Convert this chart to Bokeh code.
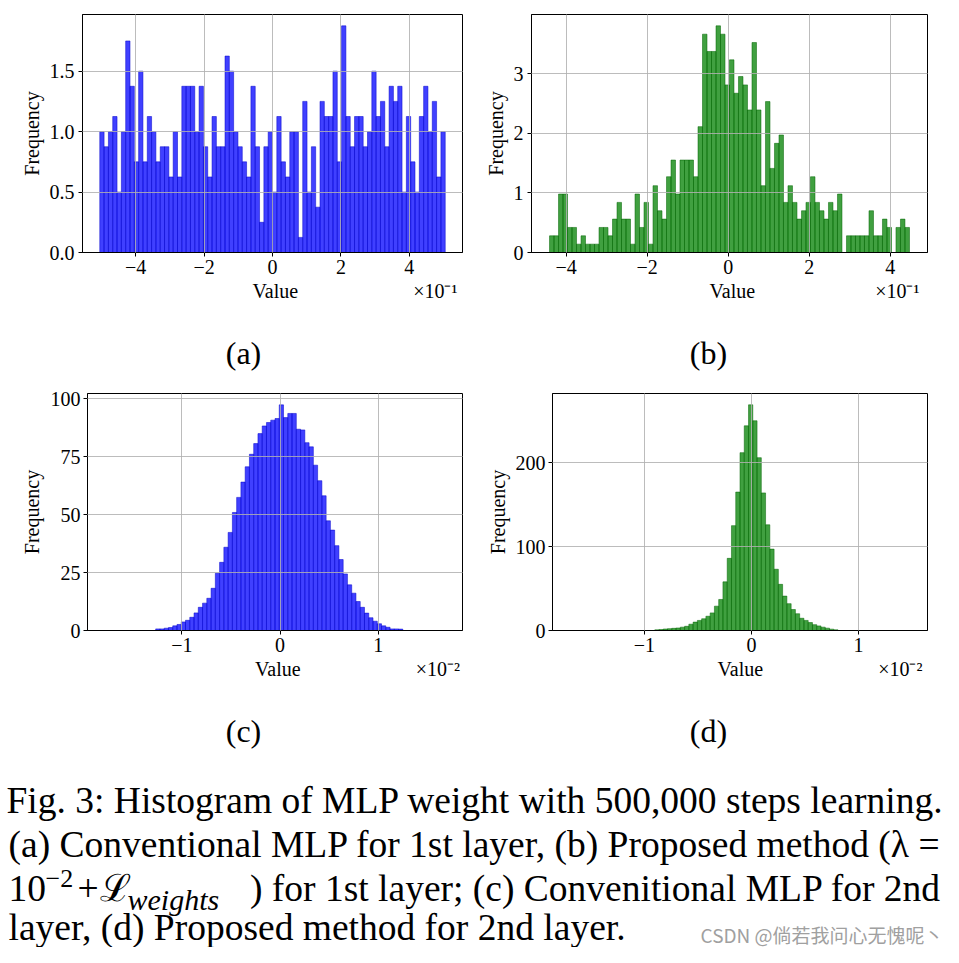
import numpy as np
from bokeh.plotting import figure
from bokeh.layouts import column, row
from bokeh.models import Range1d, FixedTicker, ColumnDataSource
from bokeh.embed import file_html
from bokeh.resources import INLINE
from bokeh.core.properties import value

SERIF = "Liberation Serif"
MINUS = "\u2212"
NBSP = "\u00a0"

# ---------------- data (x in displayed units: x10^-1 for (a),(b); x10^-2 for (c),(d)) -------------
a_lo, a_hi = -5.05, 5.05
a_freq = [1.0, 0.875, 1.0, 1.125, 0.5, 1.0, 1.75, 1.375, 0.75, 1.5,
          0.75, 1.125, 1.0, 0.75, 0.875, 0.875, 0.625, 1.0, 0.625, 1.375,
          1.375, 1.375, 1.0, 1.375, 0.875, 0.625, 1.125, 0.875, 0.875, 1.625,
          1.5, 1.0, 0.875, 0.75, 0.625, 1.375, 0.875, 0.25, 0.875, 1.0,
          0.5, 1.125, 0.75, 0.625, 1.0, 1.0, 0.125, 1.25, 0.5, 0.875,
          0.375, 1.25, 1.125, 1.125, 1.5, 0.75, 1.875, 1.125, 0.875, 1.125,
          1.125, 0.875, 1.0, 1.5, 1.125, 1.25, 0.875, 1.375, 1.25, 1.375,
          0.5, 1.125, 0.75, 0.5, 1.125, 1.375, 1.0, 1.25, 0.625, 1.0]

b_lo, b_hi = -4.412, 4.478
b_freq = [0.28, 0.28, 0.98, 0.98, 0.42, 0.42, 0.14, 0.28, 0.14, 0.14,
          0.14, 0.42, 0.42, 0.28, 0.56, 0.84, 0.56, 0.56, 0.14, 0.98,
          0.42, 0.84, 0.14, 1.12, 0.70, 0.56, 1.27, 1.55, 0.98, 1.55,
          1.55, 1.55, 1.27, 2.11, 3.66, 3.37, 3.37, 3.80, 3.66, 2.81,
          3.23, 2.67, 2.95, 2.81, 2.39, 3.52, 2.39, 1.12, 2.53, 1.41,
          1.83, 1.97, 0.84, 1.12, 0.84, 0.56, 0.70, 0.84, 1.27, 0.84,
          0.70, 0.56, 0.84, 0.70, 0.98, 0.0, 0.28, 0.28, 0.28, 0.28,
          0.28, 0.70, 0.28, 0.28, 0.56, 0.42, 0.0, 0.42, 0.56, 0.42]

c_lo, c_hi = -1.786, 1.684
c_freq = [0, 0, 0, 0, 0, 0, 0, 0, 0, 0, 0, 0,
          0.7, 0.7, 1.0, 1.3, 2.0, 2.6, 3.7, 4.4, 5.7, 7.6,
          10.0, 11.8, 13.9, 18.2, 24.7, 29.4, 35.9, 42.3, 50.9, 57.4,
          64.0, 70.6, 76.0, 80.6, 84.9, 88.2, 89.7, 90.7, 91.4, 97.3,
          91.8, 93.6, 93.6, 86.8, 86.5, 81.0, 79.2, 71.3, 64.6, 58.1,
          47.3, 43.3, 36.6, 30.6, 24.4, 19.7, 16.1, 12.5, 10.0, 7.5,
          5.5, 4.0, 2.9, 2.0, 1.4, 0.7, 0.7, 0.6,
          0, 0, 0, 0, 0, 0, 0, 0, 0, 0]

d_lo, d_hi = -1.70, 1.486
d_freq = [0, 0, 0, 0, 0, 0, 0, 0, 0, 0, 0, 0, 0, 0, 0, 0, 0, 0, 0, 0,
          0.8, 1.2, 1.8, 2.2, 2.6, 3.0, 4.0, 5.0, 7.5, 10.0,
          12.0, 14.0, 17.0, 21.0, 29.0, 37.0, 58.0, 86.0, 125.0, 165.0,
          212.0, 244.0, 269.0, 250.0, 206.0, 164.0, 126.0, 97.0, 73.0, 55.0,
          41.0, 32.0, 25.0, 20.0, 14.6, 12.0, 9.5, 7.0, 5.5, 4.0,
          2.8, 1.6, 0.8,
          0, 0, 0, 0, 0, 0, 0, 0, 0, 0, 0, 0, 0, 0, 0, 0, 0]

a_xticks = [-4, -2, 0, 2, 4]
a_yticks = [0, 0.5, 1.0, 1.5]
a_ylabels = ["0.0", "0.5", "1.0", "1.5"]
b_xticks = [-4, -2, 0, 2, 4]
b_yticks = [0, 1, 2, 3]
b_ylabels = ["0", "1", "2", "3"]
c_xticks = [-1, 0, 1]
c_yticks = [0, 25, 50, 75, 100]
c_ylabels = ["0", "25", "50", "75", "100"]
d_xticks = [-1, 0, 1]
d_yticks = [0, 100, 200]
d_ylabels = ["0", "100", "200"]

x_label = "Value"
y_label = "Frequency"
SUP = {1: "\u207b\u00b9", 2: "\u207b\u00b2"}
tags_top = ["(a)", "(b)"]
tags_bottom = ["(c)", "(d)"]


def fmt_x(t):
    return (MINUS + str(abs(t))) if t < 0 else str(t)


def make_panel(freq, lo, hi, xr, yr, xticks, yticks, ylabels, fill, edge,
               exponent, pad_l, pad_r, width, height, bl, br, bt, bb, y_std, y_lab_std):
    n = len(freq)
    edges = np.linspace(lo, hi, n + 1)
    f = np.array(freq, dtype=float)
    keep = f > 0
    src = ColumnDataSource(dict(left=edges[:-1][keep], right=edges[1:][keep], top=f[keep]))
    p = figure(width=width, height=height, x_range=Range1d(*xr), y_range=Range1d(*yr),
               output_backend="svg", toolbar_location=None,
               min_border_left=bl, min_border_right=br, min_border_top=bt, min_border_bottom=bb)
    p.quad(left="left", right="right", bottom=0, top="top", source=src,
           fill_color=fill, fill_alpha=0.75, line_color=edge, line_alpha=0.85, line_width=0.6)

    p.xaxis.ticker = FixedTicker(ticks=xticks)
    p.yaxis.ticker = FixedTicker(ticks=yticks)
    p.xgrid.ticker = FixedTicker(ticks=[t for t in xticks if xr[0] < t < xr[1]])
    p.ygrid.ticker = FixedTicker(ticks=[t for t in yticks if yr[0] < t < yr[1]])
    p.grid.grid_line_color = "#b0b0b0"
    p.grid.grid_line_width = 1
    p.grid.grid_line_alpha = 0.85
    p.grid.level = "annotation"

    p.xaxis.major_label_overrides = {t: fmt_x(t) for t in xticks}
    p.yaxis.major_label_overrides = {t: l for t, l in zip(yticks, ylabels)}

    for ax in (p.xaxis[0], p.yaxis[0]):
        ax.axis_line_color = "black"
        ax.axis_line_width = 1
        ax.major_tick_line_color = "black"
        ax.major_tick_in = 0
        ax.major_tick_out = 4
        ax.minor_tick_line_color = None
        ax.major_label_text_font = SERIF
        ax.major_label_text_font_size = "20px"
        ax.major_label_text_color = "black"
        ax.axis_label_text_font = SERIF
        ax.axis_label_text_font_size = "20px"
        ax.axis_label_text_font_style = "normal"
        ax.axis_label_text_color = "black"
    # x label with the matplotlib-style offset text (x10^-n) at the right end
    p.xaxis.axis_label = NBSP * pad_l + x_label + NBSP * pad_r + "\u00d710" + SUP[exponent]
    p.yaxis.axis_label = y_label
    p.xaxis.major_label_standoff = 3
    p.xaxis.axis_label_standoff = 3
    p.yaxis.major_label_standoff = y_std
    p.yaxis.axis_label_standoff = y_lab_std

    p.outline_line_color = "black"
    p.outline_line_width = 1
    p.background_fill_color = "white"
    p.border_fill_color = "white"
    return p


def text_strip(width, height, xs, ys, texts, sizes, styles, aligns, font):
    s = figure(width=width, height=height, x_range=Range1d(0, width), y_range=Range1d(height, 0),
               output_backend="svg", toolbar_location=None, x_axis_type=None, y_axis_type=None,
               min_border=0, min_border_left=0, min_border_right=0, min_border_top=0,
               min_border_bottom=0)
    s.outline_line_color = None
    s.background_fill_color = "white"
    s.border_fill_color = "white"
    src = ColumnDataSource(dict(x=xs, y=ys, text=texts, size=sizes, style=styles, align=aligns))
    s.text(x="x", y="y", text="text", source=src, text_font=value(font), text_font_size="size",
           text_font_style="style", text_align="align", text_baseline="middle", text_color="black")
    return s


pa = make_panel(a_freq, a_lo, a_hi, (-5.555, 5.555), (0, 1.96875), a_xticks, a_yticks, a_ylabels,
                "blue", "#0000cc", 1, 33, 23, 480, 315, 82, 18, 14, 63, 4, 4)
pb = make_panel(b_freq, b_lo, b_hi, (-4.857, 4.923), (0, 3.99), b_xticks, b_yticks, b_ylabels,
                "green", "#006400", 1, 34, 24, 463, 315, 51, 16, 14, 63, 4, 4)
pc = make_panel(c_freq, c_lo, c_hi, (-1.9595, 1.8575), (0, 102.2), c_xticks, c_yticks, c_ylabels,
                "blue", "#0000cc", 2, 33, 23, 480, 320, 87, 18, 18, 65, 3, 5)
pd = make_panel(d_freq, d_lo, d_hi, (-1.859, 1.645), (0, 282.5), d_xticks, d_yticks, d_ylabels,
                "green", "#006400", 2, 32, 23, 463, 320, 72, 16, 18, 65, 3, 4)

strip1 = text_strip(943, 60, [243, 708], [37, 37], tags_top, ["32px", "32px"],
                    ["normal", "normal"], ["center", "center"], SERIF)
strip2 = text_strip(943, 60, [243, 708], [35, 35], tags_bottom, ["32px", "32px"],
                    ["normal", "normal"], ["center", "center"], SERIF)

# ---------------- caption (y = vertical centre of each text, in px from the caption top) ----------
cap_text = ["Fig. 3: Histogram of MLP weight with 500,000 steps learning.",
            "(a) Conventional MLP for 1st layer, (b) Proposed method (\u03bb =",
            "10", MINUS + "2", "+", "\u2112", "weights",
            ") for 1st layer; (c) Convenitional MLP for 2nd",
            "layer, (d) Proposed method for 2nd layer."]
cap_x = [6, 8, 8, 45, 77, 99, 127, 941, 8]
cap_y = [45.4, 89.4, 133.4, 123, 133.4, 133.4, 143.5, 133.4, 172.4]
cap_size = ["37.5px", "37.5px", "37.5px", "26px", "37.5px", "37.5px", "30px", "37.5px", "37.5px"]
cap_style = ["normal"] * 6 + ["italic"] + ["normal"] * 2
cap_align = ["left"] * 7 + ["right", "left"]

pcap = text_strip(943, 192, cap_x, cap_y, cap_text, cap_size, cap_style, cap_align, SERIF)
pcap.text(x=[943], y=[179], text=["CSDN @\u5018\u82e5\u6211\u95ee\u5fc3\u65e0\u6127\u5462\u4e36"],
          text_font=value("Noto Sans CJK SC"), text_font_size=value("19px"),
          text_align="right", text_baseline="middle", text_color="#a0a0a0")

layout = column(row(pa, pb), strip1, row(pc, pd), strip2, pcap)
open("out.html", "w").write(file_html(layout, INLINE))
